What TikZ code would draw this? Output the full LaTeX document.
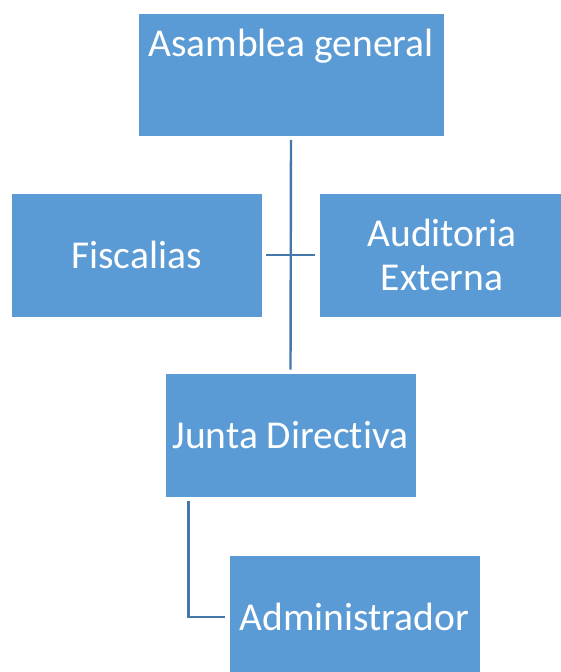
\documentclass[tikz,border=0pt]{standalone}
\usepackage{fontspec}
\setmainfont{Carlito}[Ligatures={NoCommon,NoRare}]
\begin{document}
\begin{tikzpicture}[x=1pt,y=-1pt,
  box/.style={rectangle, fill=boxblue, draw=white, line width=0.6pt, inner sep=0pt,
    text=white, font=\fontsize{39.5pt}{44pt}\selectfont, align=center},
  lbl/.style={text=white, font=\fontsize{39.5pt}{44pt}\selectfont, inner sep=0pt},
  conn/.style={draw=lineblue, line width=2.4pt, shorten <=3.5pt, shorten >=3.5pt}]
\definecolor{boxblue}{HTML}{5B9BD5}
\definecolor{lineblue}{HTML}{4677AB}
\useasboundingbox (0,0) rectangle (561,672);
\node[box, minimum width=306pt, minimum height=123pt] (asam) at (291,74.5) {};
\node[lbl, anchor=base] (asamtxt) at (291,56) {Asamblea general};
\node[box, minimum width=251pt, minimum height=124pt] (fisc) at (136.5,255) {Fiscalias};
\node[box, minimum width=246pt, minimum height=124pt] (audit) at (442,255) {Auditoria\\Externa};
\node[box, minimum width=251pt, minimum height=124pt] (junta) at (290.5,435.5) {Junta Directiva};
\node[box, minimum width=251pt, minimum height=124pt] (admin) at (354.5,617) {Administrador};
\draw[conn] (asam.south) -- (junta.north);
\draw[conn] (fisc.east) -- (audit.west);
\draw[conn] ([xshift=-102pt]junta.south) |- (admin.west);
\end{tikzpicture}
\end{document}
